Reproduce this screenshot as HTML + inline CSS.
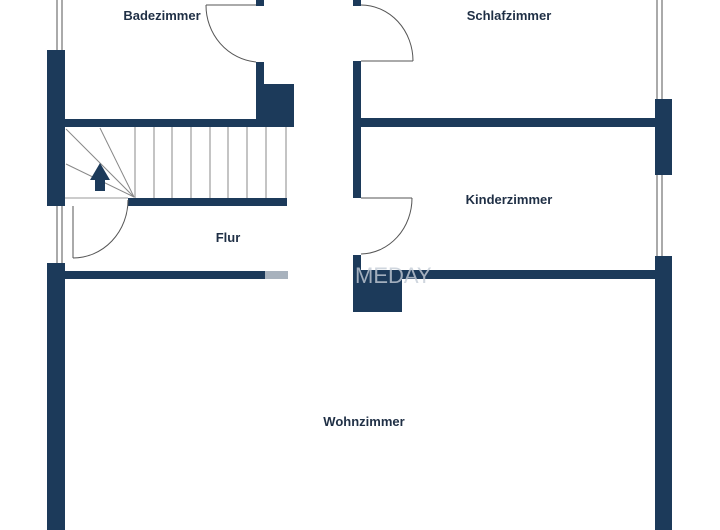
<!DOCTYPE html>
<html><head><meta charset="utf-8"><style>
body{margin:0;background:#fff;}
svg{display:block}
text{font-family:"Liberation Sans",sans-serif;font-weight:bold;font-size:13px;fill:#1f2f45;}
</style></head><body>
<svg width="720" height="530" viewBox="0 0 720 530" xmlns="http://www.w3.org/2000/svg">
<g fill="#1c3a5a">
<rect x="47" y="50" width="18" height="156"/>
<rect x="47" y="263" width="18" height="267"/>
<rect x="256" y="0" width="8" height="6"/>
<rect x="256" y="62" width="8" height="60"/>
<rect x="264" y="84" width="30" height="43"/>
<rect x="65" y="119" width="229" height="8"/>
<rect x="128" y="198" width="159" height="8"/>
<rect x="65" y="271" width="200" height="8"/>
<rect x="353" y="0" width="8" height="6"/>
<rect x="353" y="61" width="8" height="137"/>
<rect x="353" y="255" width="8" height="24"/>
<rect x="353" y="279" width="49" height="33"/>
<rect x="361" y="118" width="294" height="9"/>
<rect x="353" y="270" width="302" height="9"/>
<rect x="655" y="99" width="17" height="76"/>
<rect x="655" y="256" width="17" height="274"/>
</g>
<rect x="265" y="271" width="23" height="8" fill="#a8b2bd"/>
<g stroke="#555" stroke-width="1" fill="none">
<line x1="57" y1="0" x2="57" y2="50"/><line x1="62" y1="0" x2="62" y2="50"/>
<line x1="57" y1="206" x2="57" y2="263"/><line x1="62" y1="206" x2="62" y2="263"/>
<line x1="657" y1="0" x2="657" y2="99"/><line x1="662" y1="0" x2="662" y2="99"/>
<line x1="657" y1="175" x2="657" y2="256"/><line x1="662" y1="175" x2="662" y2="256"/>
<line x1="206" y1="5" x2="256" y2="5"/>
<path d="M206 5 A55 57 0 0 0 256 62"/>
<line x1="361" y1="61" x2="413" y2="61"/>
<path d="M361 5 A52 56 0 0 1 413 61"/>
<line x1="361" y1="198" x2="412" y2="198"/>
<path d="M412 198 A52 56 0 0 1 361 254"/>
<line x1="73" y1="206" x2="73" y2="258"/>
<path d="M128 200 A55 58 0 0 1 73 258"/>
<line x1="65" y1="198" x2="128" y2="198" stroke="#999"/>
</g>
<g stroke="#888" stroke-width="1">
<line x1="135" y1="127" x2="135" y2="198"/><line x1="154" y1="127" x2="154" y2="198"/>
<line x1="172" y1="127" x2="172" y2="198"/><line x1="191" y1="127" x2="191" y2="198"/>
<line x1="210" y1="127" x2="210" y2="198"/><line x1="228" y1="127" x2="228" y2="198"/>
<line x1="247" y1="127" x2="247" y2="198"/><line x1="266" y1="127" x2="266" y2="198"/>
<line x1="286" y1="127" x2="286" y2="198"/>
<line x1="134" y1="197" x2="66" y2="129"/><line x1="134" y1="197" x2="100" y2="128"/>
<line x1="134" y1="197" x2="66" y2="164"/>
</g>
<path d="M100 163 L110 180 L105 180 L105 191 L95 191 L95 180 L90 180 Z" fill="#1c3a5a"/>
<text x="355" y="283" style="font-size:22px;font-weight:normal;fill:#c4ccd6;opacity:.8">MEDAY</text>
<text x="162" y="20" text-anchor="middle">Badezimmer</text>
<text x="509" y="20" text-anchor="middle">Schlafzimmer</text>
<text x="509" y="204" text-anchor="middle">Kinderzimmer</text>
<text x="228" y="242" text-anchor="middle">Flur</text>
<text x="364" y="426" text-anchor="middle">Wohnzimmer</text>
</svg>
</body></html>
